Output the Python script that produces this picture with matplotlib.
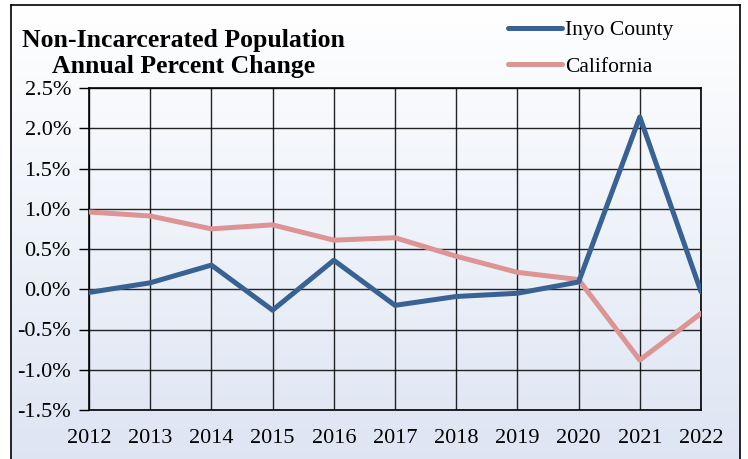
import numpy as np
import matplotlib.pyplot as plt
from matplotlib.lines import Line2D
from matplotlib.ticker import FuncFormatter

# datos (% de cambio anual)
anios = [2012, 2013, 2014, 2015, 2016, 2017, 2018, 2019, 2020, 2021, 2022]
inyo = [-0.04, 0.08, 0.30, -0.26, 0.36, -0.20, -0.09, -0.05, 0.09, 2.14, -0.03]
california = [0.96, 0.91, 0.75, 0.80, 0.61, 0.64, 0.41, 0.21, 0.12, -0.88, -0.30]
yticks = [-1.5, -1.0, -0.5, 0.0, 0.5, 1.0, 1.5, 2.0, 2.5]

plt.rcParams['font.family'] = ['Liberation Serif', 'DejaVu Serif']

fig = plt.figure(figsize=(7.48, 4.59), dpi=100)
W, H = 748, 459

# fondo con degradado (blanco arriba, azul claro abajo) dentro del marco
bg = fig.add_axes([0, 0, 1, 1], zorder=0)
bg.set_xlim(0, W)
bg.set_ylim(H, 0)
bg.axis('off')
grad = np.linspace(0, 1, 256).reshape(-1, 1)
c_top = np.array([1.0, 1.0, 1.0])
c_bot = np.array([0.867, 0.898, 0.953])
img = c_top + (c_bot - c_top) * grad[:, :, None]
bg.imshow(img, extent=[11, 740, H + 5, 5], aspect='auto', zorder=0)
for xs, ys in [([11, 11], [5, H + 5]), ([11, 740], [5, 5]), ([740, 740], [5, H + 5])]:
    bg.add_line(Line2D(xs, ys, color='black', lw=1.2, zorder=1))

ax = fig.add_axes([89 / W, 1 - 410 / H, (701 - 89) / W, (410 - 88) / H], zorder=2)
ax.patch.set_alpha(0)
ax.plot(anios, california, color='#dc9494', lw=3.6, solid_capstyle='round', label='California', zorder=3)
ax.plot(anios, inyo, color='#386293', lw=3.6, solid_capstyle='round', label='Inyo County', zorder=4)

ax.set_xlim(2012, 2022)
ax.set_ylim(-1.5, 2.5)
ax.set_xticks(anios)
ax.set_yticks(yticks)
ax.yaxis.set_major_formatter(FuncFormatter(lambda v, p: f'{v:.1f}%'))
ax.grid(True, color='black', lw=1.0, alpha=0.85)
ax.tick_params(axis='y', length=7, width=1, labelsize=16, pad=6)
ax.tick_params(axis='x', length=0, labelsize=16, pad=14)
for s in ax.spines.values():
    s.set_linewidth(1.2)

fig.text(183 / W, 1 - 40 / H, 'Non-Incarcerated Population', ha='center', va='center',
         fontsize=18.5, fontweight='bold')
fig.text(184 / W, 1 - 67 / H, 'Annual Percent Change', ha='center', va='center',
         fontsize=18.5, fontweight='bold')

h = ax.get_legend_handles_labels()
leg = fig.legend([h[0][1], h[0][0]], [h[1][1], h[1][0]], loc='upper left',
                 bbox_to_anchor=(489 / W, 1 - 1 / H), frameon=False, fontsize=15.5,
                 handlelength=2.5, handletextpad=0.15, labelspacing=0.75)

fig.savefig('out.png', dpi=100)
